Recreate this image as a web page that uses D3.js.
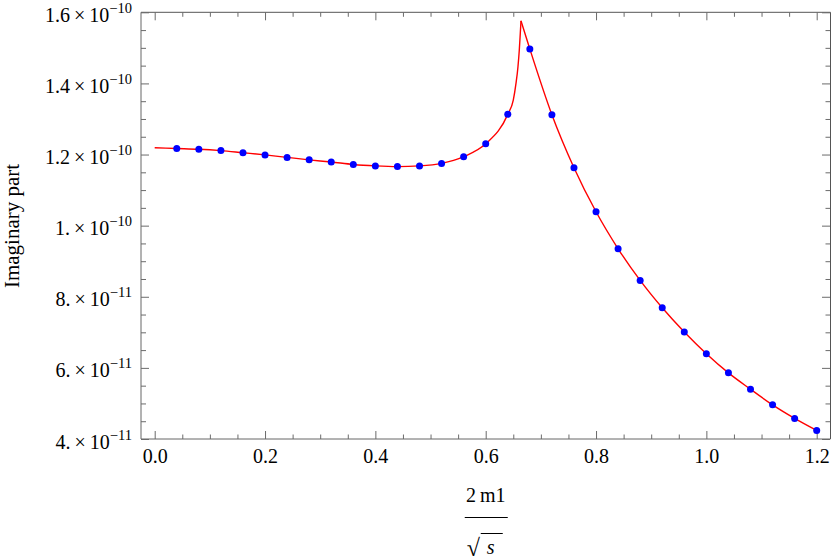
<!DOCTYPE html>
<html>
<head>
<meta charset="utf-8">
<script src="https://cdn.jsdelivr.net/npm/d3@7"></script>
<style>
  html, body { margin: 0; padding: 0; background: #fff; }
  svg { display: block; }
</style>
</head>
<body>
<svg id="chart" width="831" height="560"></svg>
<script>
// ---- data ----
const dotX = [0.04, 0.08, 0.12, 0.16, 0.20, 0.24, 0.28, 0.32, 0.36, 0.40,
              0.44, 0.48, 0.52, 0.56, 0.60, 0.64, 0.68, 0.72, 0.76, 0.80,
              0.84, 0.88, 0.92, 0.96, 1.00, 1.04, 1.08, 1.12, 1.16, 1.20];
const dotY = [1.217e-10, 1.215e-10, 1.211e-10, 1.205e-10, 1.199e-10, 1.192e-10, 1.185e-10, 1.179e-10, 1.172e-10, 1.168e-10,
              1.166e-10, 1.168e-10, 1.175e-10, 1.194e-10, 1.230e-10, 1.313e-10, 1.497e-10, 1.312e-10, 1.163e-10, 1.039e-10,
              0.935e-10, 0.846e-10, 0.769e-10, 0.701e-10, 0.640e-10, 0.586e-10, 0.540e-10, 0.496e-10, 0.458e-10, 0.424e-10];

// red curve, left branch (up to the cusp) and right branch (from the cusp)
const curveLeftX = [0, 0.04, 0.08, 0.12, 0.16, 0.20, 0.24, 0.28, 0.32, 0.36, 0.40,
                    0.44, 0.48, 0.52, 0.56, 0.60, 0.64, 0.650, 0.6549, 0.6585, 0.6609, 0.6627, 0.664];
const curveLeftY = [1.219e-10, 1.217e-10, 1.215e-10, 1.211e-10, 1.205e-10, 1.199e-10, 1.192e-10, 1.185e-10, 1.179e-10, 1.172e-10, 1.168e-10,
                    1.166e-10, 1.168e-10, 1.175e-10, 1.194e-10, 1.230e-10, 1.313e-10, 1.353e-10, 1.400e-10, 1.447e-10, 1.494e-10, 1.541e-10, 1.576e-10];
const curveRightX = [0.664, 0.68, 0.72, 0.76, 0.80, 0.84, 0.88, 0.92, 0.96, 1.00, 1.04, 1.08, 1.12, 1.16, 1.20];
const curveRightY = [1.576e-10, 1.497e-10, 1.312e-10, 1.163e-10, 1.039e-10, 0.935e-10, 0.846e-10, 0.769e-10, 0.701e-10, 0.640e-10,
                     0.586e-10, 0.540e-10, 0.496e-10, 0.458e-10, 0.424e-10];

const xTickValues = [0, 0.2, 0.4, 0.6, 0.8, 1.0, 1.2];
const xTickLabels = ["0.0", "0.2", "0.4", "0.6", "0.8", "1.0", "1.2"];
const yTickValues = [4e-11, 6e-11, 8e-11, 1e-10, 1.2e-10, 1.4e-10, 1.6e-10];
const yTickMantissa = ["4.", "6.", "8.", "1.", "1.2", "1.4", "1.6"];
const yTickExponent = ["\u221211", "\u221211", "\u221211", "\u221210", "\u221210", "\u221210", "\u221210"];

// ---- layout ----
const FONT = '"Liberation Serif", "Times New Roman", Tinos, serif';
const frame = { left: 141, right: 830.5, top: 12.3, bottom: 439 };
const svg = d3.select("#chart");

const x = d3.scaleLinear().domain([0, 1.2]).range([154.7, 816.7]);
const y = d3.scaleLinear().domain([4e-11, 1.6e-10]).range([439, 12.3]);

const xMinor = d3.range(-0.05, 1.2501, 0.05).filter(v => x(v) > frame.left && x(v) < frame.right && Math.abs(v / 0.2 - Math.round(v / 0.2)) > 1e-6);
const yMinor = d3.range(4e-11, 1.6e-10 + 1e-13, 5e-12).filter(v => Math.abs(v / 2e-11 - Math.round(v / 2e-11)) > 1e-6);

const tickColor = "#6b6b6b";
function styleAxis(g) {
  g.select(".domain").remove();
  g.selectAll(".tick line").attr("stroke", tickColor).attr("stroke-width", 1);
  g.selectAll("text").style("font-family", FONT).attr("fill", "#000");
}

// frame
svg.append("line").attr("x1", frame.left).attr("x2", frame.right).attr("y1", frame.top).attr("y2", frame.top).attr("stroke", "#555");
svg.append("line").attr("x1", frame.right).attr("x2", frame.right).attr("y1", frame.top).attr("y2", frame.bottom).attr("stroke", "#555");
svg.append("line").attr("x1", frame.left).attr("x2", frame.left).attr("y1", frame.top).attr("y2", frame.bottom).attr("stroke", "#666");
svg.append("line").attr("x1", frame.left).attr("x2", frame.right).attr("y1", frame.bottom).attr("y2", frame.bottom).attr("stroke", "#666");

// bottom axis (major with labels)
const gB = svg.append("g").attr("transform", `translate(0,${frame.bottom})`)
  .call(d3.axisBottom(x).tickValues(xTickValues).tickSizeInner(-8).tickSizeOuter(0)
    .tickFormat((d, i) => xTickLabels[i]));
styleAxis(gB);
gB.selectAll(".tick text").attr("y", 24).attr("dy", 0).attr("font-size", 20);
svg.append("g").attr("transform", `translate(0,${frame.bottom})`)
  .call(d3.axisBottom(x).tickValues(xMinor).tickSizeInner(-4.5).tickSizeOuter(0).tickFormat(""))
  .call(styleAxis);

// top axis
svg.append("g").attr("transform", `translate(0,${frame.top})`)
  .call(d3.axisTop(x).tickValues(xTickValues).tickSizeInner(-8).tickSizeOuter(0).tickFormat(""))
  .call(styleAxis);
svg.append("g").attr("transform", `translate(0,${frame.top})`)
  .call(d3.axisTop(x).tickValues(xMinor).tickSizeInner(-4.5).tickSizeOuter(0).tickFormat(""))
  .call(styleAxis);

// left axis
const gL = svg.append("g").attr("transform", `translate(${frame.left},0)`)
  .call(d3.axisLeft(y).tickValues(yTickValues).tickSizeInner(-8).tickSizeOuter(0).tickPadding(9)
    .tickFormat((d, i) => yTickMantissa[i]));
styleAxis(gL);
gL.selectAll(".tick text").each(function (d, i) {
  const t = d3.select(this);
  t.text(null).attr("dy", 9).attr("font-size", 20);
  t.append("tspan").text(yTickMantissa[i] + "\u2009\u00d7\u200910");
  t.append("tspan").attr("dy", -9).attr("font-size", 14.5).text(yTickExponent[i]);
});
svg.append("g").attr("transform", `translate(${frame.left},0)`)
  .call(d3.axisLeft(y).tickValues(yMinor).tickSizeInner(-5).tickSizeOuter(0).tickFormat(""))
  .call(styleAxis);

// right axis
svg.append("g").attr("transform", `translate(${frame.right - 0.5},0)`)
  .call(d3.axisRight(y).tickValues(yTickValues).tickSizeInner(-8).tickSizeOuter(0).tickFormat(""))
  .call(styleAxis);
svg.append("g").attr("transform", `translate(${frame.right - 0.5},0)`)
  .call(d3.axisRight(y).tickValues(yMinor).tickSizeInner(-4.5).tickSizeOuter(0).tickFormat(""))
  .call(styleAxis);

// red curve
const line = d3.line().x(d => x(d[0])).y(d => y(d[1])).curve(d3.curveMonotoneX);
const leftPts = curveLeftX.map((v, i) => [v, curveLeftY[i]]);
const rightPts = curveRightX.map((v, i) => [v, curveRightY[i]]);
[leftPts, rightPts].forEach(pts => {
  svg.append("path").datum(pts).attr("d", line)
    .attr("fill", "none").attr("stroke", "#ff0000").attr("stroke-width", 1.4)
    .attr("stroke-linejoin", "round");
});

// blue points
svg.append("g").selectAll("circle").data(dotX.map((v, i) => [v, dotY[i]])).join("circle")
  .attr("cx", d => x(d[0])).attr("cy", d => y(d[1])).attr("r", 3.5).attr("fill", "#0000ff");

// y label
svg.append("text").attr("transform", "translate(19,226) rotate(-90)")
  .attr("text-anchor", "middle").attr("font-size", 21).style("font-family", FONT).text("Imaginary part");

// x label: fraction 2 m1 / sqrt(s)
const cx = (frame.left + frame.right) / 2;
svg.append("text").attr("x", cx).attr("y", 501.5).attr("text-anchor", "middle").attr("font-size", 20)
  .style("font-family", FONT).text("2\u2009m1");
svg.append("line").attr("x1", cx - 21).attr("x2", cx + 22).attr("y1", 517.5).attr("y2", 517.5)
  .attr("stroke", "#000").attr("stroke-width", 1.2);
svg.append("text").attr("x", cx - 19).attr("y", 556).attr("font-size", 24).style("font-family", FONT).text("\u221a");
svg.append("text").attr("x", cx + 1).attr("y", 554).attr("font-size", 20).attr("font-style", "italic")
  .style("font-family", FONT).text("s");
svg.append("line").attr("x1", cx - 5).attr("x2", cx + 17).attr("y1", 533.5).attr("y2", 533.5)
  .attr("stroke", "#000").attr("stroke-width", 1);
</script>
</body>
</html>
